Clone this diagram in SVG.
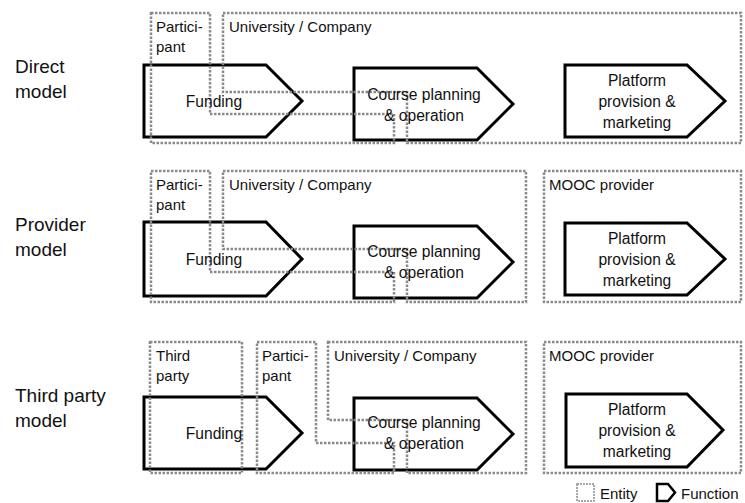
<svg xmlns="http://www.w3.org/2000/svg" width="745" height="503" viewBox="0 0 745 503">
<style>
.fn{fill:#fff;stroke:#000;stroke-width:3;stroke-linejoin:miter}
.ent{fill:none;stroke:#8a8a8a;stroke-width:2.5;stroke-dasharray:2.5 1.5}
text{font-family:"Liberation Sans",Arial,sans-serif;fill:#111}
.lbl{font-size:15px}
.fl{font-size:15.6px;text-anchor:middle}
.ml{font-size:19px}
</style>
<rect width="745" height="503" fill="#fff"/>
<g id="model-labels">
<text class="ml" x="15" y="73">Direct</text><text class="ml" x="15" y="98">model</text>
<text class="ml" x="15" y="231">Provider</text><text class="ml" x="15" y="256">model</text>
<text class="ml" x="15" y="402">Third party</text><text class="ml" x="15" y="427">model</text>
</g>
<!-- Row 1: Direct model -->
<g id="r1-funding"><polygon class="fn" points="144,65 266,65 302,101 266,137 144,137"/></g>
<g id="r1-course"><polygon class="fn" points="354,68 477,68 513,104 477,140 354,140"/></g>
<g id="r1-platform"><polygon class="fn" points="565,65 687,65 725,101 687,137 565,137"/></g>
<g id="r1-participant"><polygon class="ent" points="151,13 210,13 210,114 394,114 394,143 151,143"/><text class="lbl" x="156" y="32">Partici-</text><text class="lbl" x="156" y="52">pant</text></g>
<g id="r1-university"><polygon class="ent" points="223,13 741,13 741,143 407,143 407,92 223,92"/><text class="lbl" x="229" y="32">University / Company</text></g>
<g id="r1-labels">
<text class="fl" x="214" y="107">Funding</text>
<text class="fl" x="424" y="100">Course planning</text><text class="fl" x="424" y="121">&amp; operation</text>
<text class="fl" x="637" y="86">Platform</text><text class="fl" x="637" y="107">provision &amp;</text><text class="fl" x="637" y="128">marketing</text>
</g>
<!-- Row 2: Provider model -->
<g id="r2-funding"><polygon class="fn" points="144,222 266,222 302,259 266,296 144,296"/></g>
<g id="r2-course"><polygon class="fn" points="354,226 477,226 513,262 477,298 354,298"/></g>
<g id="r2-platform"><polygon class="fn" points="565,223 687,223 725,259 687,295 565,295"/></g>
<g id="r2-participant"><polygon class="ent" points="151,171 210,171 210,272 394,272 394,302 151,302"/><text class="lbl" x="156" y="190">Partici-</text><text class="lbl" x="156" y="210">pant</text></g>
<g id="r2-university"><polygon class="ent" points="223,171 526,171 526,302 407,302 407,249 223,249"/><text class="lbl" x="229" y="190">University / Company</text></g>
<g id="r2-mooc"><rect class="ent" x="544" y="171" width="197" height="131"/><text class="lbl" x="549" y="190">MOOC provider</text></g>
<g id="r2-labels">
<text class="fl" x="214" y="265">Funding</text>
<text class="fl" x="424" y="257">Course planning</text><text class="fl" x="424" y="278">&amp; operation</text>
<text class="fl" x="637" y="244">Platform</text><text class="fl" x="637" y="265">provision &amp;</text><text class="fl" x="637" y="286">marketing</text>
</g>
<!-- Row 3: Third party model -->
<g id="r3-funding"><polygon class="fn" points="144,397 266,397 302,433 266,469 144,469"/></g>
<g id="r3-course"><polygon class="fn" points="354,398 477,398 513,434 477,470 354,470"/></g>
<g id="r3-platform"><polygon class="fn" points="566,394 687,394 723,430 687,467 566,467"/></g>
<g id="r3-thirdparty"><rect class="ent" x="150" y="342" width="92" height="131"/><text class="lbl" x="156" y="361">Third</text><text class="lbl" x="156" y="381">party</text></g>
<g id="r3-participant"><polygon class="ent" points="257,342 316,342 316,443 394,443 394,473 257,473"/><text class="lbl" x="262" y="361">Partici-</text><text class="lbl" x="262" y="381">pant</text></g>
<g id="r3-university"><polygon class="ent" points="328,342 526,342 526,473 407,473 407,420 328,420"/><text class="lbl" x="334" y="361">University / Company</text></g>
<g id="r3-mooc"><rect class="ent" x="544" y="342" width="197" height="131"/><text class="lbl" x="549" y="361">MOOC provider</text></g>
<g id="r3-labels">
<text class="fl" x="214" y="439">Funding</text>
<text class="fl" x="424" y="428">Course planning</text><text class="fl" x="424" y="449">&amp; operation</text>
<text class="fl" x="637" y="415">Platform</text><text class="fl" x="637" y="436">provision &amp;</text><text class="fl" x="637" y="457">marketing</text>
</g>
<g id="legend">
<rect x="577" y="484" width="17" height="17" fill="none" stroke="#8a8a8a" stroke-width="1.5" stroke-dasharray="2 1"/>
<text class="lbl" x="600" y="499">Entity</text>
<polygon points="657,484 668,484 675,492.5 668,501 657,501" fill="#fff" stroke="#000" stroke-width="2.5"/>
<text class="lbl" x="681" y="499">Function</text>
</g>
</svg>
